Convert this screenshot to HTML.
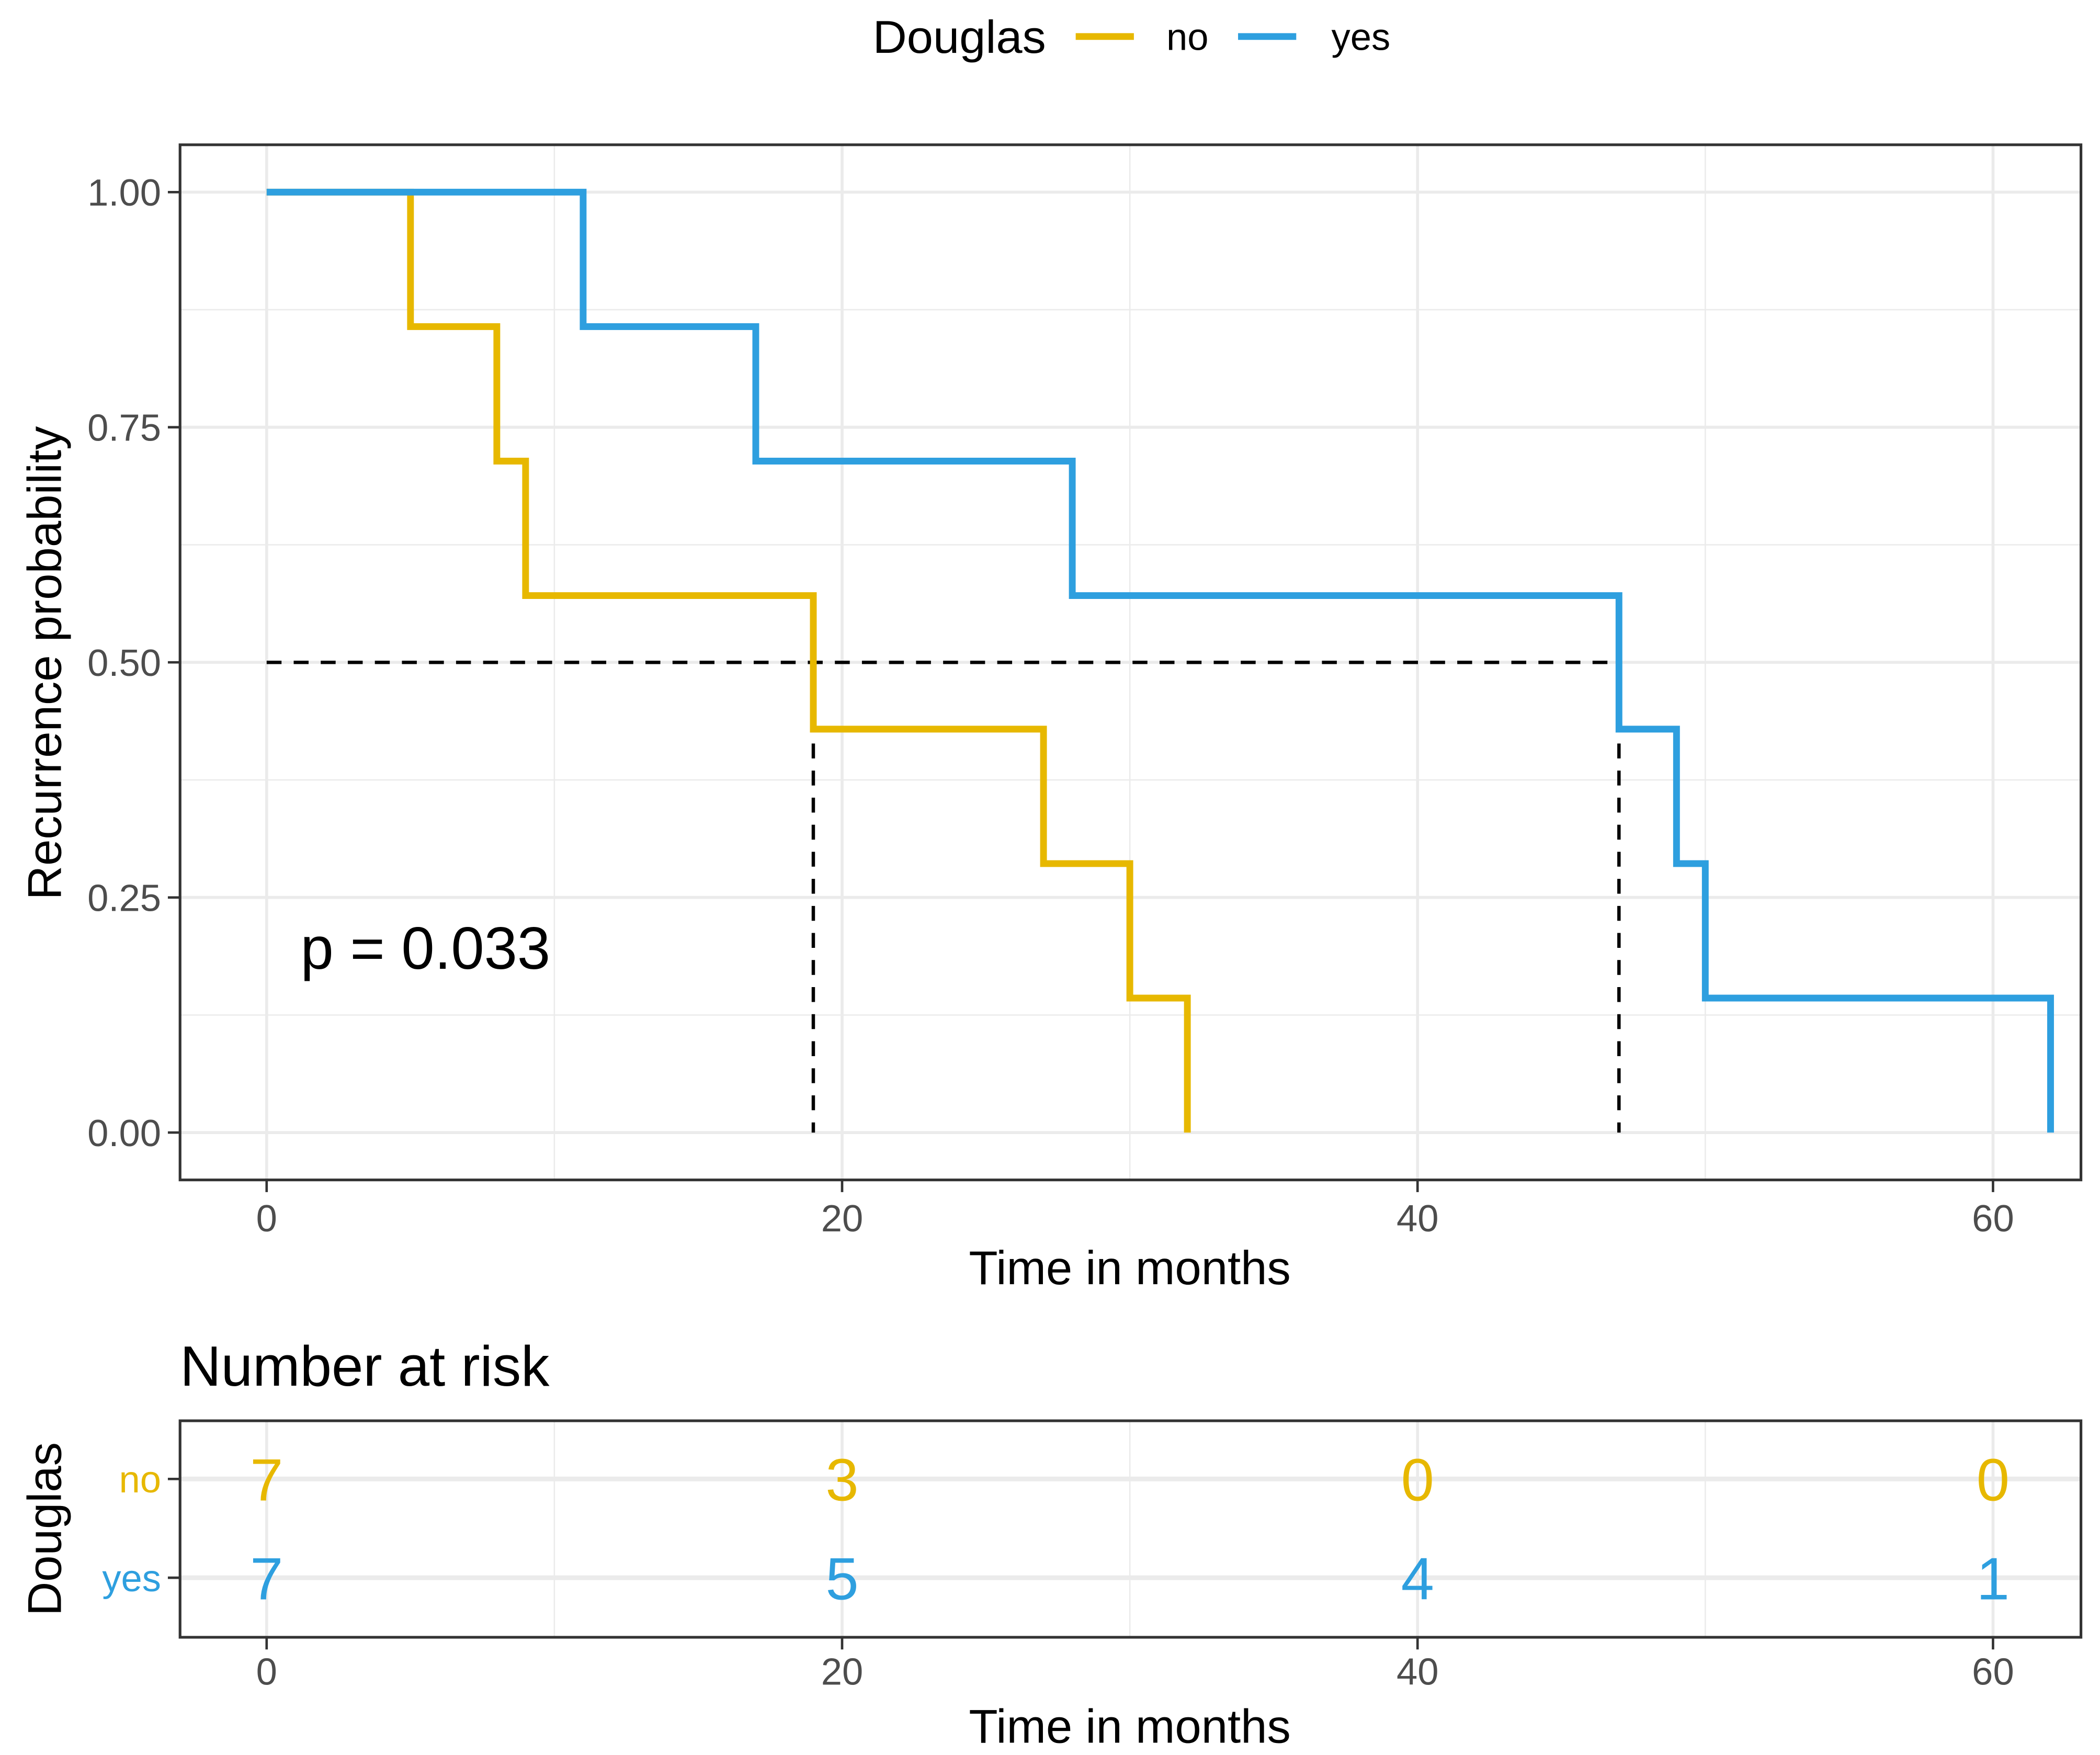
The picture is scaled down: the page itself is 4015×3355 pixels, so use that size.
<!DOCTYPE html>
<html><head><meta charset="utf-8"><style>
html,body{margin:0;padding:0;background:#fff}
svg{display:block;font-family:"Liberation Sans",Arial,sans-serif}
</style></head><body>
<svg id="chart" width="4015" height="3355" viewBox="0 0 1552 1297" xmlns="http://www.w3.org/2000/svg">
<rect width="1552" height="1297" fill="#fff"/>
<g id="legend">
<text x="645" y="39" font-size="34" fill="#000" textLength="128" lengthAdjust="spacingAndGlyphs">Douglas</text>
<line x1="795" y1="27" x2="838" y2="27" stroke="#E7B800" stroke-width="5"/>
<text x="862" y="37" font-size="28" fill="#000">no</text>
<line x1="915" y1="27" x2="958" y2="27" stroke="#2E9FDF" stroke-width="5"/>
<text x="984" y="37" font-size="28" fill="#000">yes</text>
</g>
<g id="main"></g>
<g id="risk"></g>
</svg>
<script>
const categories = ['no', 'yes'];
const noTimes = [0, 5, 8, 9, 19, 27, 30, 32];
const noSurv = [1, 0.857, 0.714, 0.571, 0.429, 0.286, 0.143, 0];
const yesTimes = [0, 11, 17, 28, 47, 49, 50, 62];
const yesSurv = [1, 0.857, 0.714, 0.571, 0.429, 0.286, 0.143, 0];
const medianTimes = [19, 47];
const xTicks = [0, 20, 40, 60];
const xMinor = [10, 30, 50];
const yTicks = [0, 0.25, 0.5, 0.75, 1];
const yTickLabels = ['0.00', '0.25', '0.50', '0.75', '1.00'];
const yMinor = [0.125, 0.375, 0.625, 0.875];
const riskNo = [7, 3, 0, 0];
const riskYes = [7, 5, 4, 1];
const pValueText = 'p = 0.033';

const NS = 'http://www.w3.org/2000/svg';
const X0 = 197, X60 = 1473;
const sx = t => X0 + (X60 - X0) * t / 60;
const sy = v => 837 - (837 - 142) * v;
const PL = 133, PR = 1538;
function mk(parent, tag, attrs, text) {
  const e = document.createElementNS(NS, tag);
  for (const k in attrs) e.setAttribute(k, attrs[k]);
  if (text !== undefined) e.textContent = text;
  parent.appendChild(e);
  return e;
}
const main = document.getElementById('main');


mk(main, 'rect', {x: PL, y: 107, width: PR - PL, height: 765, fill: '#fff'});
yMinor.forEach(v => { const l = mk(main, 'line', {x1: PL, x2: PR, y1: sy(v), y2: sy(v), stroke: '#ebebeb', 'stroke-width': 1});
    });
xMinor.forEach(t => { const l = mk(main, 'line', {x1: sx(t), x2: sx(t), y1: 107, y2: 872, stroke: '#ebebeb', 'stroke-width': 1});
    });
yTicks.forEach((v, i) => {
  const l = mk(main, 'line', {x1: PL, x2: PR, y1: sy(v), y2: sy(v), stroke: '#ebebeb', 'stroke-width': 2.2});
   
  mk(main, 'line', {x1: PL - 9, x2: PL, y1: sy(v), y2: sy(v), stroke: '#333', 'stroke-width': 1.8});
  const t = mk(main, 'text', {x: PL - 14, y: sy(v) + 10, 'font-size': 28, fill: '#4d4d4d', 'text-anchor': 'end'}, yTickLabels[i]);
   
});
xTicks.forEach(tk => {
  const l = mk(main, 'line', {x1: sx(tk), x2: sx(tk), y1: 107, y2: 872, stroke: '#ebebeb', 'stroke-width': 2.2});
   
  mk(main, 'line', {x1: sx(tk), x2: sx(tk), y1: 872, y2: 881, stroke: '#333', 'stroke-width': 1.8});
  const t = mk(main, 'text', {x: sx(tk), y: 910, 'font-size': 28, fill: '#4d4d4d', 'text-anchor': 'middle'}, String(tk));
   
});
function stepPath(times, surv) {
  let d = 'M' + sx(times[0]) + ',' + sy(surv[0]);
  for (let i = 1; i < times.length; i++) d += ' H' + sx(times[i]) + ' V' + sy(surv[i]);
  return d;
}
const medMax = Math.max(...medianTimes);
const mh = mk(main, 'line', {x1: sx(0), x2: sx(medMax), y1: sy(0.5), y2: sy(0.5), stroke: '#000', 'stroke-width': 2.5, 'stroke-dasharray': '11,9'});
 
medianTimes.forEach(m => {
  const l = mk(main, 'line', {x1: sx(m), x2: sx(m), y1: sy(0.5), y2: sy(0), stroke: '#000', 'stroke-width': 2.5, 'stroke-dasharray': '11,9'});
   
});
const pn = mk(main, 'path', {d: stepPath(noTimes, noSurv), fill: 'none', stroke: '#E7B800', 'stroke-width': 5});
 
const py = mk(main, 'path', {d: stepPath(yesTimes, yesSurv), fill: 'none', stroke: '#2E9FDF', 'stroke-width': 5});
 
const pv = mk(main, 'text', {x: 222, y: 716, 'font-size': 44, fill: '#000'}, pValueText);
 
mk(main, 'rect', {x: PL, y: 107, width: PR - PL, height: 765, fill: 'none', stroke: '#333', 'stroke-width': 2});
const xt = mk(main, 'text', {x: 835, y: 949, 'font-size': 35, fill: '#000', 'text-anchor': 'middle'}, 'Time in months');
 
const yt = mk(main, 'text', {x: 0, y: 0, 'font-size': 35, fill: '#000', 'text-anchor': 'middle', transform: 'translate(45,490) rotate(-90)'}, 'Recurrence probability');
 

const risk = document.getElementById('risk');


const RT = 1050, RB = 1210;
const rowY = {no: 1093, yes: 1166};
const colors = {no: '#E7B800', yes: '#2E9FDF'};
const rtitle = mk(risk, 'text', {x: 133, y: 1024, 'font-size': 42, fill: '#000'}, 'Number at risk');
 
xMinor.forEach(t => mk(risk, 'line', {x1: sx(t), x2: sx(t), y1: RT, y2: RB, stroke: '#ebebeb', 'stroke-width': 1}));
xTicks.forEach(t => mk(risk, 'line', {x1: sx(t), x2: sx(t), y1: RT, y2: RB, stroke: '#ebebeb', 'stroke-width': 2.2}));
categories.forEach(c => {
  mk(risk, 'line', {x1: PL, x2: PR, y1: rowY[c], y2: rowY[c], stroke: '#ebebeb', 'stroke-width': 3.5});
  mk(risk, 'line', {x1: PL - 9, x2: PL, y1: rowY[c], y2: rowY[c], stroke: '#333', 'stroke-width': 1.8});
  const lab = mk(risk, 'text', {x: PL - 14, y: rowY[c] + 10, 'font-size': 28, fill: colors[c], 'text-anchor': 'end'}, c);
   
});
xTicks.forEach((tk, i) => {
  const a = mk(risk, 'text', {x: sx(tk), y: rowY.no + 16, 'font-size': 44, fill: colors.no, 'text-anchor': 'middle'}, String(riskNo[i]));
   
  const b = mk(risk, 'text', {x: sx(tk), y: rowY.yes + 16, 'font-size': 44, fill: colors.yes, 'text-anchor': 'middle'}, String(riskYes[i]));
   
  mk(risk, 'line', {x1: sx(tk), x2: sx(tk), y1: RB, y2: RB + 9, stroke: '#333', 'stroke-width': 1.8});
  const t = mk(risk, 'text', {x: sx(tk), y: 1245, 'font-size': 28, fill: '#4d4d4d', 'text-anchor': 'middle'}, String(tk));
   
});
mk(risk, 'rect', {x: PL, y: RT, width: PR - PL, height: RB - RT, fill: 'none', stroke: '#333', 'stroke-width': 2});
const rxt = mk(risk, 'text', {x: 835, y: 1288, 'font-size': 35, fill: '#000', 'text-anchor': 'middle'}, 'Time in months');
 
const ryt = mk(risk, 'text', {x: 0, y: 0, 'font-size': 35, fill: '#000', 'text-anchor': 'middle', transform: 'translate(45,1130) rotate(-90)'}, 'Douglas');
 
</script>
</body></html>
